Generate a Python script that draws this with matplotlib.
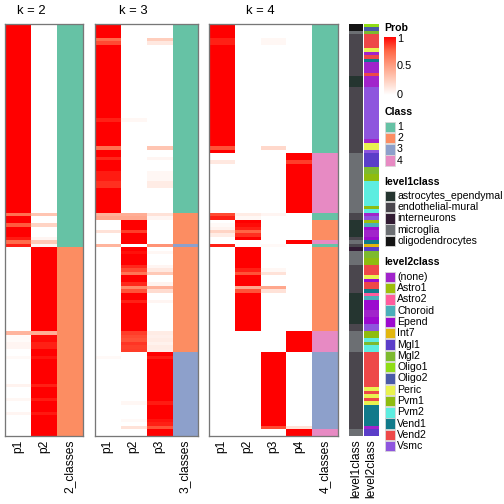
import matplotlib
matplotlib.use('Agg')
import matplotlib.pyplot as plt
import numpy as np
from matplotlib.colors import LinearSegmentedColormap, to_rgba
from matplotlib.patches import Rectangle

plt.rcParams['font.family'] = ['Liberation Sans', 'DejaVu Sans']

N_ROWS = 118

# run-length lists read top to bottom: (number of rows, value)
k2_p1 = [(54, 1.0), (1, 0.7), (2, 1.0), (1, 0.78), (3, 1.0), (1, 0.93), (1, 0.72), (1, 0.92),
         (24, 0.0), (1, 0.38), (2, 0.02), (2, 0.05), (2, 0.0), (1, 0.03), (7, 0.0), (1, 0.06),
         (3, 0.0), (1, 0.04), (3, 0.0), (1, 0.05), (6, 0.0)]
k2_p2 = [(54, 0.0), (1, 0.3), (2, 0.0), (1, 0.22), (3, 0.0), (1, 0.05), (1, 0.28), (1, 0.05),
         (24, 1.0), (1, 0.42), (2, 0.97), (2, 0.92), (2, 1.0), (1, 0.95), (7, 1.0), (1, 0.92),
         (3, 1.0), (1, 0.93), (3, 1.0), (1, 0.94), (6, 1.0)]
k2_class = [(64, 1), (54, 2)]

k3_p1 = [(4, 1.0), (1, 0.72), (1, 0.82), (21, 1.0), (1, 0.92), (7, 1.0), (1, 0.7), (2, 1.0),
         (1, 0.9), (3, 1.0), (3, 0.93), (2, 0.88), (7, 1.0), (1, 0.4), (1, 0.45), (3, 0.0),
         (1, 0.15), (3, 0.0), (1, 0.38), (31, 0.0), (1, 0.03), (22, 0.0)]
k3_p2 = [(27, 0.0), (1, 0.04), (26, 0.0), (1, 0.42), (1, 0.45), (3, 1.0), (1, 0.85), (3, 1.0),
         (1, 0.0), (1, 1.0), (1, 0.96), (3, 1.0), (1, 0.9), (1, 0.82), (1, 0.68), (2, 1.0),
         (1, 0.9), (1, 0.6), (1, 0.8), (2, 1.0), (1, 0.92), (8, 1.0),
         (1, 0.85), (1, 0.82), (1, 0.8), (1, 0.87), (1, 0.84), (1, 0.85),
         (14, 0.0), (1, 0.04), (4, 0.0), (1, 0.03), (1, 0.0), (1, 0.15), (2, 0.0)]
k3_p3 = [(4, 0.0), (1, 0.25), (1, 0.12), (29, 0.0), (1, 0.3), (2, 0.0), (1, 0.05), (3, 0.0),
         (3, 0.04), (2, 0.1), (7, 0.0), (1, 0.15), (1, 0.05), (7, 0.0), (1, 0.55),
         (1, 0.0), (1, 0.04), (3, 0.0), (1, 0.05), (1, 0.12), (1, 0.28), (2, 0.0),
         (1, 0.06), (1, 0.4), (1, 0.18), (2, 0.0), (1, 0.05), (8, 0.0),
         (1, 0.1), (1, 0.08), (1, 0.1), (1, 0.07), (1, 0.1), (1, 0.09),
         (1, 1.0), (1, 0.93), (12, 1.0), (1, 0.93), (4, 1.0), (1, 0.95), (1, 0.92), (1, 0.8), (2, 1.0)]
k3_class = [(54, 1), (9, 2), (1, 3), (30, 2), (24, 3)]

k4_p1 = [(4, 1.0), (2, 0.92), (29, 1.0), (1, 0.8), (1, 1.0), (2, 0.0), (1, 0.12), (14, 0.0),
         (1, 0.82), (1, 0.92), (1, 0.0), (1, 0.03), (1, 0.06), (1, 0.22), (1, 0.1), (2, 0.0),
         (1, 0.92), (54, 0.0)]
k4_p2 = [(54, 0.0), (1, 0.1), (1, 0.04), (1, 1.0), (1, 0.97), (1, 0.92), (1, 0.75), (1, 0.88),
         (1, 1.0), (1, 0.0), (1, 0.0), (6, 1.0), (1, 0.92), (1, 0.8), (3, 1.0), (1, 0.45),
         (1, 0.8), (11, 1.0), (30, 0.0)]
k4_p3 = [(4, 0.0), (2, 0.04), (29, 0.0), (1, 0.2), (18, 0.0), (1, 0.05), (8, 0.0), (1, 0.03),
         (6, 0.0), (1, 0.04), (1, 0.15), (3, 0.0), (1, 0.45), (1, 0.15), (17, 0.0),
         (21, 1.0), (1, 0.82), (2, 0.0)]
k4_p4 = [(37, 0.0), (2, 1.0), (1, 0.85), (14, 1.0), (8, 0.0), (1, 1.0), (25, 0.0), (6, 1.0),
         (21, 0.0), (1, 0.15), (2, 1.0)]
k4_class = [(37, 1), (17, 4), (2, 1), (6, 2), (1, 4), (1, 1), (24, 2), (6, 4), (22, 3), (2, 4)]

level1_runs = [(2, 'oligodendrocytes'), (1, 'microglia'), (12, 'endothelial-mural'),
               (3, 'astrocytes_ependymal'), (19, 'endothelial-mural'), (17, 'microglia'),
               (2, 'endothelial-mural'), (5, 'astrocytes_ependymal'), (1, 'endothelial-mural'),
               (1, 'microglia'), (1, 'endothelial-mural'), (1, 'interneurons'), (4, 'microglia'),
               (8, 'endothelial-mural'), (9, 'astrocytes_ependymal'), (2, 'endothelial-mural'),
               (6, 'microglia'), (22, 'endothelial-mural'), (2, 'microglia')]
level2_runs = [(1, 'Oligo1'), (1, 'Oligo2'), (1, 'Mgl2'), (4, 'Vend2'), (1, 'Peric'), (1, '(none)'),
               (1, 'Vend2'), (1, 'Vend1'), (3, '(none)'), (1, 'Vend2'), (3, '(none)'), (15, 'Vsmc'),
               (1, '(none)'), (2, 'Peric'), (1, 'Vsmc'), (4, 'Mgl1'), (2, 'Mgl2'), (2, 'Pvm1'),
               (7, 'Pvm2'), (1, 'Pvm1'), (1, 'Pvm2'), (1, '(none)'), (1, 'Vsmc'), (1, 'Astro1'),
               (1, 'Choroid'), (1, 'Epend'), (2, '(none)'), (1, 'Epend'), (1, 'Vend1'), (1, 'Int7'),
               (1, 'Mgl1'), (2, 'Mgl2'), (2, 'Pvm1'), (3, 'Vend2'), (1, 'Peric'), (1, 'Epend'),
               (2, 'Vend2'), (1, 'Vend1'), (1, 'Astro2'), (1, 'Choroid'), (3, 'Epend'), (2, '(none)'),
               (2, 'Epend'), (2, 'Vsmc'), (2, 'Pvm1'), (1, 'Pvm2'), (1, 'Mgl2'), (2, 'Pvm2'),
               (10, 'Vend2'), (1, 'Peric'), (1, 'Vend2'), (1, 'Peric'), (1, 'Vend2'), (1, 'Peric'),
               (6, 'Vend1'), (1, '(none)'), (2, 'Mgl1')]

class_colors = ['#66C2A5', '#FC8D62', '#8DA0CB', '#E78AC3']
level1_names = ['astrocytes_ependymal', 'endothelial-mural', 'interneurons', 'microglia', 'oligodendrocytes']
level1_colors = ['#253530', '#4A464D', '#321B33', '#6C6F73', '#141414']
level2_names = ['(none)', 'Astro1', 'Astro2', 'Choroid', 'Epend', 'Int7', 'Mgl1', 'Mgl2', 'Oligo1',
                'Oligo2', 'Peric', 'Pvm1', 'Pvm2', 'Vend1', 'Vend2', 'Vsmc']
level2_colors = ['#A124CB', '#9DBF0A', '#FF5C9D', '#4AAFBA', '#9C0ACF', '#E2B70F', '#5B3EC9', '#7DBA2F',
                 '#90DD16', '#4A5AA8', '#E9F24F', '#8FBC0F', '#5DEDE0', '#117A8A', '#EE4848', '#8E55DE']

prob_cmap = LinearSegmentedColormap.from_list(
    'prob', [(0, '#FFFFFF'), (0.25, '#FFCFBE'), (0.5, '#FF9E82'), (0.75, '#FF6746'), (1, '#FF0000')])


def expand(runs):
    counts = [c for c, _ in runs]
    vals = [v for _, v in runs]
    return np.repeat(np.array(vals, dtype=object), counts)


W = H = 504
fig = plt.figure(figsize=(7, 7), dpi=72)

lay = fig.add_axes([0, 0, 1, 1])
lay.set_xlim(0, W)
lay.set_ylim(H, 0)
lay.axis('off')


def px_axes(x0, y0, x1, y1):
    return fig.add_axes([x0 / W, 1 - y1 / H, (x1 - x0) / W, (y1 - y0) / H])


top, bottom = 24, 435.7
panels = [(2, 5.3, 82.5, [k2_p1, k2_p2], k2_class),
          (3, 94.5, 198.0, [k3_p1, k3_p2, k3_p3], k3_class),
          (4, 208.5, 337.5, [k4_p1, k4_p2, k4_p3, k4_p4], k4_class)]

for k, x0, x1, probs, cls in panels:
    ax = px_axes(x0, top, x1, bottom)
    img = np.zeros((N_ROWS, k + 1, 4))
    for j, col in enumerate(probs):
        img[:, j] = prob_cmap(expand(col).astype(float))
    img[:, k] = [to_rgba(class_colors[c - 1]) for c in expand(cls)]
    ax.imshow(img, aspect='auto', interpolation='nearest')
    ax.set_xticks(range(k + 1))
    ax.set_xticklabels([f'p{i + 1}' for i in range(k)] + [f'{k}_classes'], rotation=90, fontsize=12)
    ax.tick_params(length=0, pad=4)
    ax.set_yticks([])
    for s in ax.spines.values():
        s.set_color('#777777')
        s.set_linewidth(1.3)
    cx = x0 + (x1 - x0) * k / (k + 1) / 2
    lay.text(cx, 11.5, f'k = {k}', ha='center', va='center', fontsize=13)

# row annotations
for (x0, x1), runs, names, colors, label in [((349, 363), level1_runs, level1_names, level1_colors, 'level1class'),
                                             ((364, 379), level2_runs, level2_names, level2_colors, 'level2class')]:
    ax = px_axes(x0, top, x1, bottom)
    cmap = {n: to_rgba(c) for n, c in zip(names, colors)}
    img = np.array([cmap[v] for v in expand(runs)]).reshape(N_ROWS, 1, 4)
    ax.imshow(img, aspect='auto', interpolation='nearest')
    ax.set_xticks([0])
    ax.set_xticklabels([label], rotation=90, fontsize=12)
    ax.tick_params(length=0, pad=4)
    ax.set_yticks([])
    for s in ax.spines.values():
        s.set_visible(False)

# legends
LX = 384.5
TX = 397
lay.text(LX, 28, 'Prob', fontweight='bold', fontsize=10.5, va='center', ha='left')
cb = px_axes(384, 36.5, 395.5, 95.5)
cb.imshow(np.linspace(1, 0, 200).reshape(-1, 1), cmap=prob_cmap, aspect='auto',
          vmin=0, vmax=1, extent=(0, 1, 0, 1))
cb.axis('off')
for v, lab in [(1, '1'), (0.5, '0.5'), (0, '0')]:
    y = 95.5 - v * 59
    yy = min(max(y, 38.5), 94.5)
    lay.plot([384, 386.3], [yy, yy], color='white', lw=1, zorder=5)
    lay.plot([393.2, 395.5], [yy, yy], color='white', lw=1, zorder=5)
    lay.text(TX, yy, lab, fontsize=11, va='center', ha='left')


def legend_block(header, hy, labels, colors, y0, step=11.3):
    lay.text(LX, hy, header, fontweight='bold', fontsize=10.5, va='center', ha='left')
    for i, (lab, col) in enumerate(zip(labels, colors)):
        cy = y0 + i * step
        lay.add_patch(Rectangle((LX, cy - 5.2), 10.5, 10.4, facecolor=col, edgecolor='#d8d8d8', lw=0.8))
        lay.text(TX, cy, lab, fontsize=10.5, va='center', ha='left')


legend_block('Class', 111.7, ['1', '2', '3', '4'], class_colors, 126.7)
legend_block('level1class', 182.3, level1_names, level1_colors, 195.7)
legend_block('level2class', 261.7, level2_names, level2_colors, 276.7)

fig.savefig('out.png', dpi=72)
